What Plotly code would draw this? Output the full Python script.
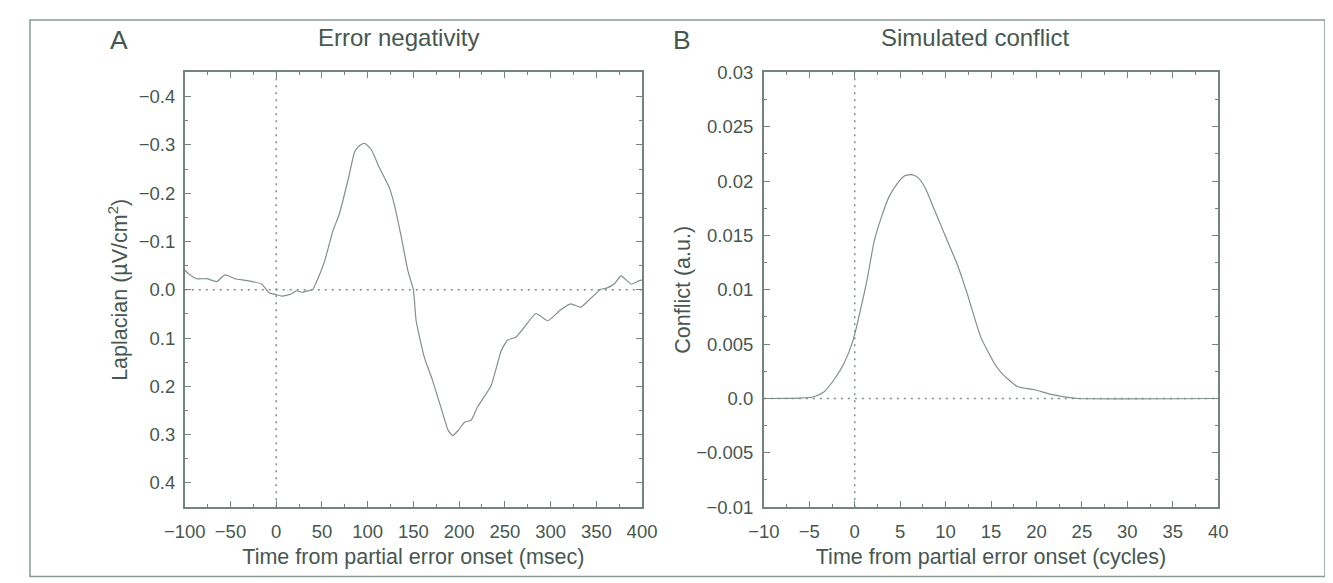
import plotly.graph_objects as go

# ---------------- data ----------------
# Panel A: Error negativity (Laplacian, µV/cm²) vs time (msec)
time_ms = [-100, -95, -87, -76, -65, -56, -45, -32, -16, -8, 0, 6, 12, 17, 22, 28, 35,
           40, 46, 53, 62, 69, 79, 86, 92, 97, 104, 113, 124, 129, 137, 144, 150,
           153, 162, 171, 180, 188, 193, 199, 206, 213, 220, 235, 246, 253, 262,
           271, 284, 297, 310, 322, 333, 342, 355, 362, 370, 377, 388, 397, 400]
laplacian = [-0.041, -0.032, -0.023, -0.023, -0.017, -0.031, -0.023, -0.019, -0.012,
             0.006, 0.010, 0.013, 0.011, 0.008, 0.002, 0.005, 0.002,
             -0.001, -0.025, -0.060, -0.122, -0.157, -0.231, -0.287, -0.300, -0.303,
             -0.290, -0.252, -0.210, -0.177, -0.107, -0.039, 0.000,
             0.064, 0.140, 0.188, 0.243, 0.291, 0.302, 0.291, 0.274, 0.270, 0.243,
             0.198, 0.126, 0.104, 0.098, 0.078, 0.049, 0.064, 0.043, 0.029, 0.036,
             0.021, -0.001, -0.004, -0.013, -0.029, -0.012, -0.019, -0.020]

# Panel B: Simulated conflict (a.u.) vs time (cycles)
time_cycles = [-10, -6, -4.5, -3.4, -2.3, -1.2, -0.2, 0.7, 1.4, 2.15, 2.9, 3.8, 4.7,
               5.5, 6.3, 7.0, 7.8, 8.7, 9.6, 10.3, 11.3, 12.4, 13.9, 15.4, 16.1,
               17.9, 19.8, 21.5, 23.5, 24.5, 39.3]
conflict = [0, 0.00003, 0.00016, 0.0006, 0.0017, 0.0032, 0.0053, 0.0084, 0.0111,
            0.0145, 0.0166, 0.0186, 0.0198, 0.0205, 0.0206, 0.0203, 0.0193, 0.0175,
            0.0157, 0.0143, 0.0123, 0.0096, 0.0056, 0.0032, 0.0024, 0.0011, 0.0008,
            0.0004, 0.0001, 0, 0]

# tick labels
b_y_tickvals = [-0.01, -0.005, 0, 0.005, 0.01, 0.015, 0.02, 0.025, 0.03]
b_y_ticktext = ["\u22120.01", "\u22120.005", "0.0", "0.005", "0.01", "0.015", "0.02", "0.025", "0.03"]

# ---------------- style ----------------
W, H = 1333, 583
TXT = "#47574f"
AX = "#72847d"
LINE = "#828f8a"
FONT = "Liberation Sans, Arial, sans-serif"

# the photographed page shows the figure slightly shrunk and offset; compensate
SX, OX = 0.9745, 27.0
SY, OY = 0.9714, 16.1


def px_x(p):
    v = (p - OX) / SX / W
    return min(max(v, 0.0), 1.0)


def px_y(p):
    v = 1 - (p - OY) / SY / H
    return min(max(v, 0.0), 1.0)


fig = go.Figure()
fig.add_trace(go.Scatter(x=time_ms, y=laplacian, mode="lines",
                         line=dict(color=LINE, width=1.2, shape="spline", smoothing=0.5),
                         xaxis="x", yaxis="y", showlegend=False))
fig.add_trace(go.Scatter(x=time_cycles, y=conflict, mode="lines",
                         line=dict(color=LINE, width=1.2, shape="spline", smoothing=0.6),
                         xaxis="x2", yaxis="y2", showlegend=False))

common = dict(showline=True, linecolor=AX, linewidth=1.7, mirror="allticks",
              ticks="inside", ticklen=6, tickwidth=1.3, tickcolor=AX,
              showgrid=False, zeroline=False,
              tickfont=dict(size=18.5, color=TXT, family=FONT),
              title_font=dict(size=21.5, color=TXT, family=FONT))

fig.update_layout(
    width=W, height=H,
    margin=dict(l=0, r=0, t=0, b=0),
    paper_bgcolor="white", plot_bgcolor="white",
    font=dict(family=FONT, color=TXT),
    xaxis=dict(domain=[px_x(183), px_x(641)], range=[-100, 400], dtick=50, tick0=0,
               anchor="y", ticklabelstandoff=7,
               title=dict(text="Time from partial error onset (msec)", standoff=8),
               minor=dict(ticks="inside", ticklen=3, dtick=25, tickcolor=AX, tickwidth=1.1),
               **common),
    yaxis=dict(domain=[px_y(508), px_y(70)], range=[0.45, -0.45], dtick=0.1, tick0=0,
               tickformat=".1f", anchor="x", ticklabelstandoff=4,
               title=dict(text="Laplacian (\u00b5V/cm<sup>2</sup>)", standoff=5),
               minor=dict(ticks="inside", ticklen=3, dtick=0.05, tickcolor=AX, tickwidth=1.1),
               **common),
    xaxis2=dict(domain=[px_x(763), px_x(1218)], range=[-10, 40], dtick=5, tick0=0,
                anchor="y2", ticklabelstandoff=7,
                title=dict(text="Time from partial error onset (cycles)", standoff=8),
                minor=dict(ticks="inside", ticklen=3, dtick=2.5, tickcolor=AX, tickwidth=1.1),
                **common),
    yaxis2=dict(domain=[px_y(508), px_y(70)], range=[-0.01, 0.03],
                tickmode="array", tickvals=b_y_tickvals, ticktext=b_y_ticktext, anchor="x2",
                ticklabelstandoff=5,
                title=dict(text="Conflict (a.u.)", standoff=0),
                minor=dict(ticks="inside", ticklen=3, dtick=0.0025, tick0=0, tickcolor=AX, tickwidth=1.1),
                **common),
)

dot = dict(color="#7f8e89", width=1.5, dash="2px,5px")
shapes = [
    dict(type="line", xref="x domain", yref="y", x0=0, x1=1, y0=0, y1=0, line=dot, layer="below"),
    dict(type="line", xref="x", yref="y domain", x0=0, x1=0, y0=0, y1=1, line=dot, layer="below"),
    dict(type="line", xref="x2 domain", yref="y2", x0=0, x1=1, y0=0, y1=0, line=dot, layer="below"),
    dict(type="line", xref="x2", yref="y2 domain", x0=0, x1=0, y0=0, y1=1, line=dot, layer="below"),
    dict(type="rect", xref="paper", yref="paper", x0=1.0 / W, x1=1 - 1.0 / W,
         y0=px_y(578), y1=1 - 1.0 / H, line=dict(color="#8a9a94", width=1.5)),
]
fig.update_layout(shapes=shapes)

ann = [
    dict(text="A", x=px_x(117), y=px_y(36.8), font=dict(size=26.5, color=TXT, family=FONT)),
    dict(text="Error negativity", x=px_x(397.5), y=px_y(34.8), font=dict(size=24, color=TXT, family=FONT)),
    dict(text="B", x=px_x(681), y=px_y(36.8), font=dict(size=26.5, color=TXT, family=FONT)),
    dict(text="Simulated conflict", x=px_x(974), y=px_y(34.8), font=dict(size=24, color=TXT, family=FONT)),
]
for a in ann:
    fig.add_annotation(xref="paper", yref="paper", showarrow=False,
                       xanchor="center", yanchor="middle", **a)

fig.write_html("out.html")
